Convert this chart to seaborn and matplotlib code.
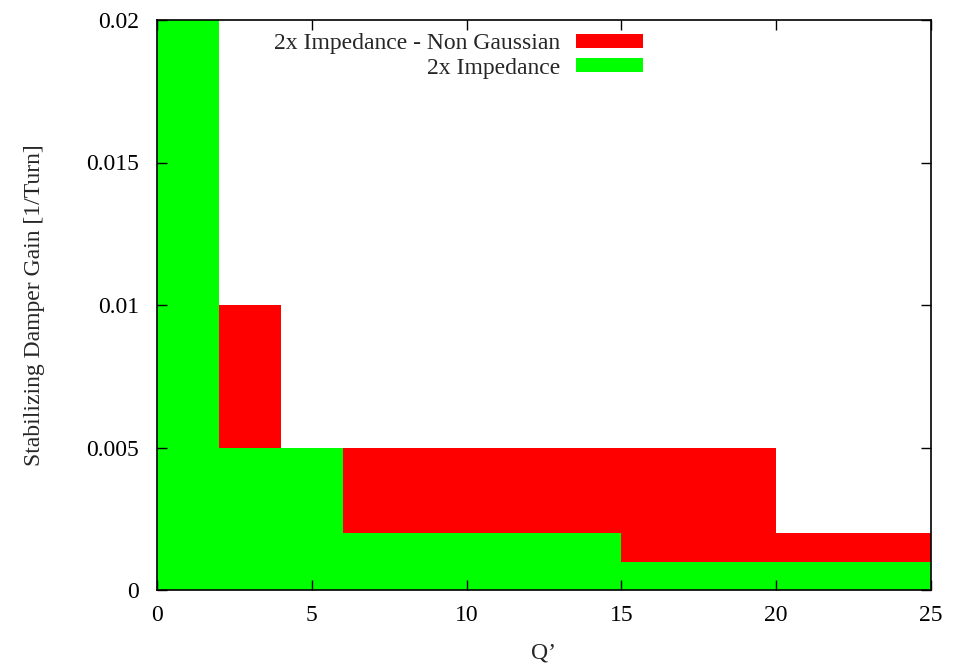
import matplotlib
matplotlib.use("Agg")
import matplotlib.pyplot as plt
import seaborn as sns
from matplotlib.patches import Patch

# Data
q_nongauss = [0, 2, 4, 20, 25]
gain_nongauss = [0.02, 0.01, 0.005, 0.002]
q_gauss = [0, 2, 6, 15, 25]
gain_gauss = [0.02, 0.005, 0.002, 0.001]
label_nongauss = "2x Impedance - Non Gaussian"
label_gauss = "2x Impedance"
xticks = [0, 5, 10, 15, 20, 25]
yticks = [0, 0.005, 0.01, 0.015, 0.02]
ytick_labels = ["0", "0.005", "0.01", "0.015", "0.02"]

sns.set_style("ticks")
plt.rcParams['font.family'] = ['Liberation Serif', 'DejaVu Serif']
FS = 17
plt.rcParams['font.size'] = FS

fig = plt.figure(figsize=(9.6, 6.64), dpi=100)
ax = fig.add_axes([157/960, 1 - 590/664, (931-157)/960, (590-20)/664])

red = "#ff0000"
green = "#00ff00"

def centers(edges):
    return [(a + b) / 2 for a, b in zip(edges[:-1], edges[1:])]

sns.histplot(x=centers(q_nongauss), weights=gain_nongauss, bins=q_nongauss,
             element="bars", fill=True, color=red, alpha=1, linewidth=0, ax=ax)
sns.histplot(x=centers(q_gauss), weights=gain_gauss, bins=q_gauss,
             element="bars", fill=True, color=green, alpha=1, linewidth=0, ax=ax)

ax.set_xlim(0, 25)
ax.set_ylim(0, 0.02)
ax.set_xticks(xticks)
ax.set_xticklabels([str(t) for t in xticks])
ax.set_yticks(yticks)
ax.set_yticklabels(ytick_labels)
ax.tick_params(direction="in", top=True, right=True, length=7, width=1,
               labelsize=FS, colors="black")
ax.tick_params(axis="x", pad=11)
ax.tick_params(axis="y", pad=13)
for s in ax.spines.values():
    s.set_linewidth(1.2)
    s.set_color("black")
    s.set_zorder(5)
ax.set_axisbelow(False)

ax.set_xlabel("Q’", fontsize=FS, labelpad=12)
ax.set_ylabel("Stabilizing Damper Gain [1/Turn]", fontsize=FS, labelpad=29.5)

handles = [Patch(facecolor=red, edgecolor="none"), Patch(facecolor=green, edgecolor="none")]
leg = ax.legend(handles, [label_nongauss, label_gauss], loc="upper right",
                bbox_to_anchor=((643-157)/774, (590-33)/570), frameon=False, markerfirst=False,
                borderpad=0, borderaxespad=0,
                handlelength=2.84, handleheight=0.55, handletextpad=0.68,
                labelspacing=0.15, fontsize=FS)
for t in leg.get_texts():
    t.set_ha("right")

fig.savefig("out.png", dpi=100)
